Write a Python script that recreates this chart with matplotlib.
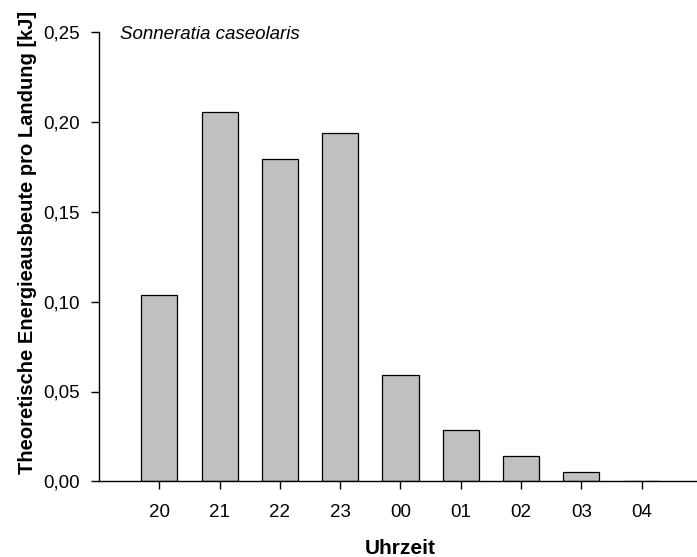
import matplotlib
matplotlib.use("Agg")
import matplotlib.pyplot as plt
import matplotlib.transforms as mtransforms
import numpy as np

plt.rcParams['font.family'] = ['Liberation Sans', 'DejaVu Sans']

hours = ["20", "21", "22", "23", "00", "01", "02", "03", "04"]
energy_kj = [0.1038, 0.2057, 0.1792, 0.1942, 0.0591, 0.0287, 0.0142, 0.0051, 0.0]
y_ticks = [0.00, 0.05, 0.10, 0.15, 0.20, 0.25]
y_tick_labels = ["0,00", "0,05", "0,10", "0,15", "0,20", "0,25"]
species = "Sonneratia caseolaris"

fig = plt.figure(figsize=(6.97, 5.57), dpi=100)
W, H = 697, 557
left, right, bottom, top = 99, 702, 481.3, 32.3
ax = fig.add_axes([left / W, (H - bottom) / H, (right - left) / W, (bottom - top) / H])

x = np.arange(len(hours))
ax.bar(x, energy_kj, width=0.6, color="#C0C0C0", edgecolor="black", linewidth=0.9)

ax.set_xlim(-1, 9)
ax.set_ylim(0, 0.25)
ax.set_xticks(x)
ax.set_xticklabels(hours)
ax.set_yticks(y_ticks)
ax.set_yticklabels(y_tick_labels)

for side in ("top", "right"):
    ax.spines[side].set_visible(False)
for side in ("left", "bottom"):
    ax.spines[side].set_linewidth(1.0)

ax.tick_params(axis="both", direction="out", length=6, width=1.0, labelsize=13.5)
ax.tick_params(axis="y", pad=8)
ax.tick_params(axis="x", pad=10)

ax.set_xlabel("Uhrzeit", fontsize=15, fontweight="bold")
ax.xaxis.set_label_coords(0.5, -0.1285)
ax.set_ylabel("Theoretische Energieausbeute pro Landung [kJ]", fontsize=14.5,
              fontweight="bold")
ax.yaxis.set_label_coords(-0.103, 0.531)

blend = mtransforms.blended_transform_factory(ax.transAxes, ax.transData)
ax.text(0.035, 0.2463, species, transform=blend,
        fontsize=13.5, fontstyle="italic", ha="left", va="baseline")

fig.savefig("out.png", dpi=100)
